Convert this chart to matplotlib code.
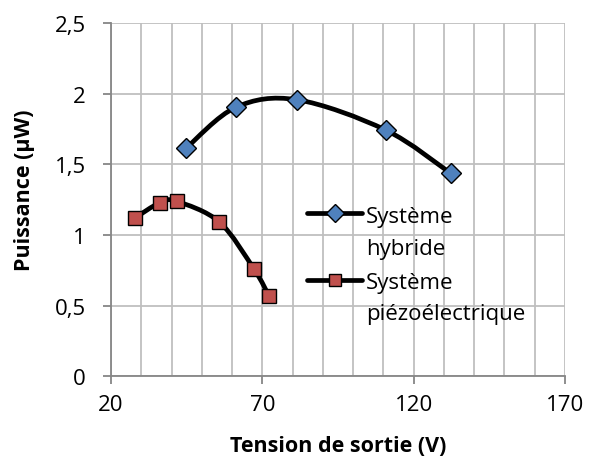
import numpy as np
import matplotlib
matplotlib.use("Agg")
import matplotlib.pyplot as plt
from matplotlib.path import Path
from matplotlib.patches import PathPatch
from matplotlib.lines import Line2D
from matplotlib.ticker import MultipleLocator, FuncFormatter

plt.rcParams['font.family'] = ['Open Sans', 'DejaVu Sans']

# data
hybrid_v = [44.8, 61.3, 81.4, 110.7, 132.2]
hybrid_p = [1.614, 1.904, 1.957, 1.743, 1.437]
piezo_v = [27.9, 36.2, 41.7, 55.8, 67.3, 72.2]
piezo_p = [1.120, 1.229, 1.238, 1.092, 0.757, 0.568]

x_ticks = [20, 70, 120, 170]
labels = [('Système', 'hybride'), ('Système', 'piézoélectrique')]
blue = '#4F81BD'
red = '#C0504D'
grid_col = '#BFBFBF'
axis_col = '#868686'
W, H = 591, 464
fs = 16


def smooth_path(xs, ys):
    # Excel-like smoothed line: cubic bezier through every point
    pts = np.column_stack([xs, ys])
    n = len(pts)
    verts = [pts[0]]
    codes = [Path.MOVETO]
    for i in range(n - 1):
        p0 = pts[max(i - 1, 0)]
        p1 = pts[i]
        p2 = pts[i + 1]
        p3 = pts[min(i + 2, n - 1)]
        verts += [p1 + (p2 - p0) / 6, p2 - (p3 - p1) / 6, p2]
        codes += [Path.CURVE4] * 3
    return Path(verts, codes)


def fig_xy(px, py):
    return px / W, 1 - py / H


fig = plt.figure(figsize=(W / 100, H / 100), dpi=100)
ax = fig.add_axes([111 / W, 1 - 377.3 / H, 454 / W, 353.3 / H])

ax.set_xlim(20, 170)
ax.set_ylim(0, 2.5)
ax.set_xticks(x_ticks)
ax.xaxis.set_minor_locator(MultipleLocator(10))
ax.yaxis.set_major_locator(MultipleLocator(0.5))
ax.yaxis.set_major_formatter(FuncFormatter(lambda v, p: ('%g' % v).replace('.', ',')))

ax.grid(True, which='both', axis='x', color=grid_col, lw=1.3, zorder=0)
ax.grid(True, which='major', axis='y', color=grid_col, lw=1.3, zorder=0)
ax.set_axisbelow(True)
for s in ['top', 'right']:
    ax.spines[s].set_visible(False)
for s in ['left', 'bottom']:
    ax.spines[s].set_color(axis_col)
    ax.spines[s].set_linewidth(1.3)
ax.tick_params(axis='both', which='major', color=axis_col, width=1.3, length=6,
               labelsize=fs, direction='out')
ax.tick_params(axis='y', pad=12)
ax.tick_params(axis='x', pad=7)
ax.tick_params(axis='x', which='minor', length=0)

ax.set_xlabel('Tension de sortie (V)', fontsize=15.5, fontweight='bold')
ax.set_ylabel('Puissance (µW)', fontsize=15.5, fontweight='bold')
ax.xaxis.set_label_coords(0.5, -0.165)
ax.yaxis.set_label_coords(-0.168, 0.53)

for xs, ys, col, mk in [(hybrid_v, hybrid_p, blue, 'D'), (piezo_v, piezo_p, red, 's')]:
    ax.add_patch(PathPatch(smooth_path(xs, ys), fill=False, lw=3.4, ec='black',
                           capstyle='round', joinstyle='round', zorder=3))
    ax.plot(xs, ys, ls='none', marker=mk, ms=10, mfc=col, mec='black', mew=1, zorder=4)

# legend, handle sits on the first text line like in Excel
for (l1, l2), col, mk, hy, b1, b2 in [(labels[0], blue, 'D', 214, 223, 255),
                                      (labels[1], red, 's', 281, 289, 320)]:
    x0, y0 = fig_xy(307, hy)
    x1, _ = fig_xy(362, hy)
    fig.add_artist(Line2D([x0, x1], [y0, y0], color='black', lw=3.4,
                          transform=fig.transFigure, solid_capstyle='round'))
    xm, _ = fig_xy(334.5, hy)
    fig.add_artist(Line2D([xm], [y0], ls='none', marker=mk, ms=9, mfc=col, mec='black',
                          mew=1, transform=fig.transFigure))
    tx, ty = fig_xy(366, b1)
    fig.text(tx, ty, l1, fontsize=fs, va='baseline', ha='left')
    tx, ty = fig_xy(366, b2)
    fig.text(tx, ty, l2, fontsize=fs, va='baseline', ha='left')

fig.savefig('out.png', dpi=100)
